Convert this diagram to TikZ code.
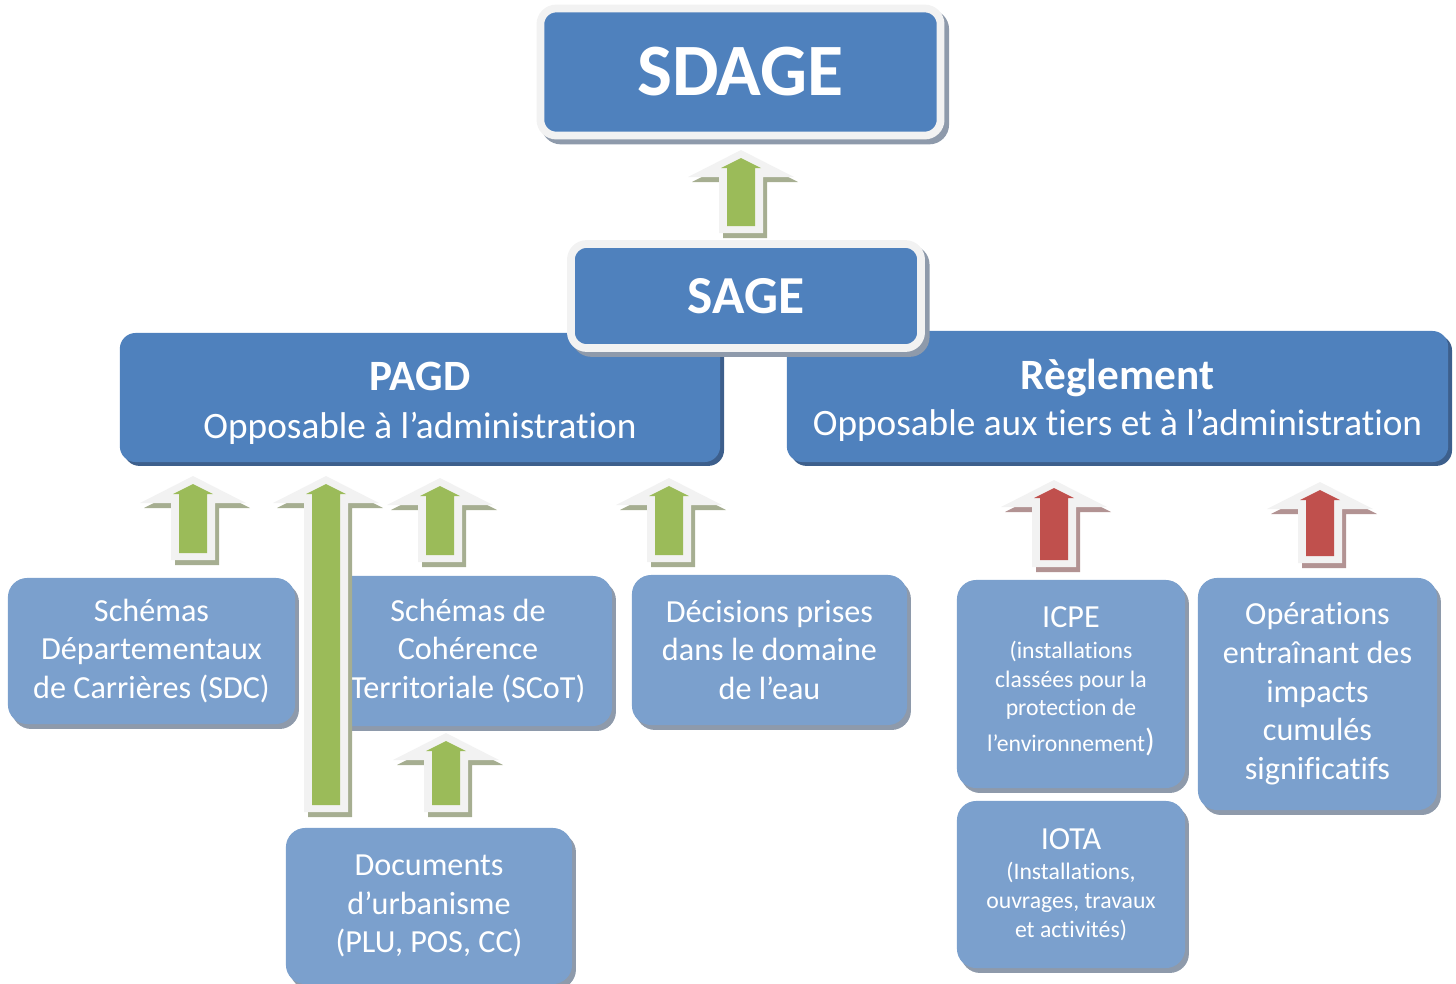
\documentclass[tikz,border=0pt]{standalone}
\usepackage{fontspec}
\setmainfont{Carlito}[Ligatures={NoCommon,NoContextual}]
\definecolor{sagablue}{HTML}{4F81BD}
\definecolor{paleblue}{HTML}{7BA0CD}
\definecolor{rimgray}{HTML}{F2F2F2}
\definecolor{arrgreen}{HTML}{9BBB59}
\definecolor{arrred}{HTML}{C0504D}
\definecolor{greenshade}{HTML}{A6AE91}
\definecolor{redshade}{HTML}{B29393}
\definecolor{boxshade}{HTML}{8E9AAB}
\definecolor{darkshade}{HTML}{3D5F8C}
\tikzset{
  topbox/.style={draw=rimgray, line width=2.2pt, fill=sagablue, text=white,
    rounded corners=4.5pt, inner sep=0pt, font=\bfseries,
    preaction={draw=boxshade, fill=boxshade, transform canvas={shift={(1.3pt,-1.4pt)}}}},
  midbox/.style={fill=sagablue, rounded corners=4.5pt, inner sep=0pt,
    preaction={fill=darkshade, transform canvas={shift={(1.1pt,-1.1pt)}}}},
  midtext/.style={text=white, inner sep=0pt, align=center, font=\fontsize{10.6}{14}\selectfont},
  lowbox/.style={fill=paleblue, text=white, rounded corners=5.5pt, inner sep=0pt,
    align=center, font=\fontsize{9.15}{11}\selectfont,
    preaction={fill=boxshade, transform canvas={shift={(1.1pt,-1.4pt)}}}},
}
% block arrow: centre x, tip y, bottom y, fill, shade
\newcommand{\blockarrow}[5]{%
  \begin{scope}[shift={(#1,#2)}]
    \fill[#5] (4,5) -- (57,32) -- (26,32) -- (26,#3-#2+5) -- (-18,#3-#2+5) -- (-18,32) -- (-49,32) -- cycle;
    \fill[rimgray] (0,0) -- (53,27) -- (22,27) -- (22,#3-#2) -- (-22,#3-#2) -- (-22,27) -- (-53,27) -- cycle;
    \fill[#4] (0,8) -- (20,18) -- (14,18) -- (14,#3-#2-7) -- (-14,#3-#2-7) -- (-14,18) -- (-20,18) -- cycle;
  \end{scope}}
\begin{document}
\begin{tikzpicture}[x=0.01cm, y=-0.01cm]
  \useasboundingbox (0,0) rectangle (1456,984);
  % Draw the two columns under the SAGE
  \node[midbox, minimum width=6cm, minimum height=1.29cm] (pagd) at (420,397.5) {};
  \node[midtext] (pagdtxt) at ([yshift=-1.6pt]pagd.center)
    {{\fontsize{12.3}{14}\selectfont\bfseries PAGD}\\[-0.5pt]Opposable à l’administration};
  \node[midbox, minimum width=6.61cm, minimum height=1.31cm] (regl) at (1117.5,396.5) {};
  \node[midtext] (regltxt) at ([yshift=-1.1pt]regl.center)
    {{\fontsize{12.3}{14}\selectfont\bfseries Règlement}\\[-0.8pt]Opposable aux tiers et à l’administration};
  % Draw SAGE and SDAGE
  \node[topbox, minimum width=3.5cm, minimum height=1.04cm, font=\bfseries\fontsize{15.2}{17}\selectfont] (sage) at (746,296) {SAGE};
  \node[topbox, minimum width=4cm, minimum height=1.27cm, font=\bfseries\fontsize{21}{25}\selectfont] (sdage) at (740.5,72) {SDAGE};
  \blockarrow{741}{150}{233}{arrgreen}{greenshade}
  % Draw the lower boxes
  \node[lowbox, minimum width=2.87cm, minimum height=1.46cm] (sdc) at (151.5,651)
    {Schémas\\Départementaux\\de Carrières (SDC)};
  \node[lowbox, minimum width=2.88cm, minimum height=1.5cm] (scot) at (468,651)
    {Schémas de\\Cohérence\\Territoriale (SCoT)};
  \node[lowbox, minimum width=2.75cm, minimum height=1.5cm] (deau) at (769.5,650)
    {Décisions prises\\dans le domaine\\de l’eau};
  \node[lowbox, minimum width=2.86cm, minimum height=1.56cm] (docu) at (429,906)
    {Documents\\d’urbanisme\\(PLU, POS, CC)};
  \node[lowbox, minimum width=2.28cm, minimum height=2.08cm, font=\fontsize{6.75}{8.2}\selectfont] (icpe) at (1071,684)
    {{\fontsize{9.15}{11}\selectfont ICPE}\\[0.5pt](installations\\classées pour la\\protection de\\[2pt]l’environnement{\fontsize{9.15}{11}\selectfont)}\\[-5.5pt]};
  \node[lowbox, minimum width=2.28cm, minimum height=1.67cm, font=\fontsize{6.75}{8.2}\selectfont] (iota) at (1071,884.5)
    {{\fontsize{9.15}{11}\selectfont IOTA}\\[0.5pt](Installations,\\ouvrages, travaux\\et activités)};
  \node[lowbox, minimum width=2.39cm, minimum height=2.32cm] (oper) at (1317.5,694)
    {Opérations\\entraînant des\\impacts\\cumulés\\significatifs};
  % Draw the arrows
  \foreach \cx/\ty/\by in {193/476/560, 440/478/562, 669/478/562, 446/733/812, 326/476/812}
    \blockarrow{\cx}{\ty}{\by}{arrgreen}{greenshade};
  \foreach \cx/\ty/\by in {1054/480/567, 1320/482/563}
    \blockarrow{\cx}{\ty}{\by}{arrred}{redshade};
\end{tikzpicture}
\end{document}
